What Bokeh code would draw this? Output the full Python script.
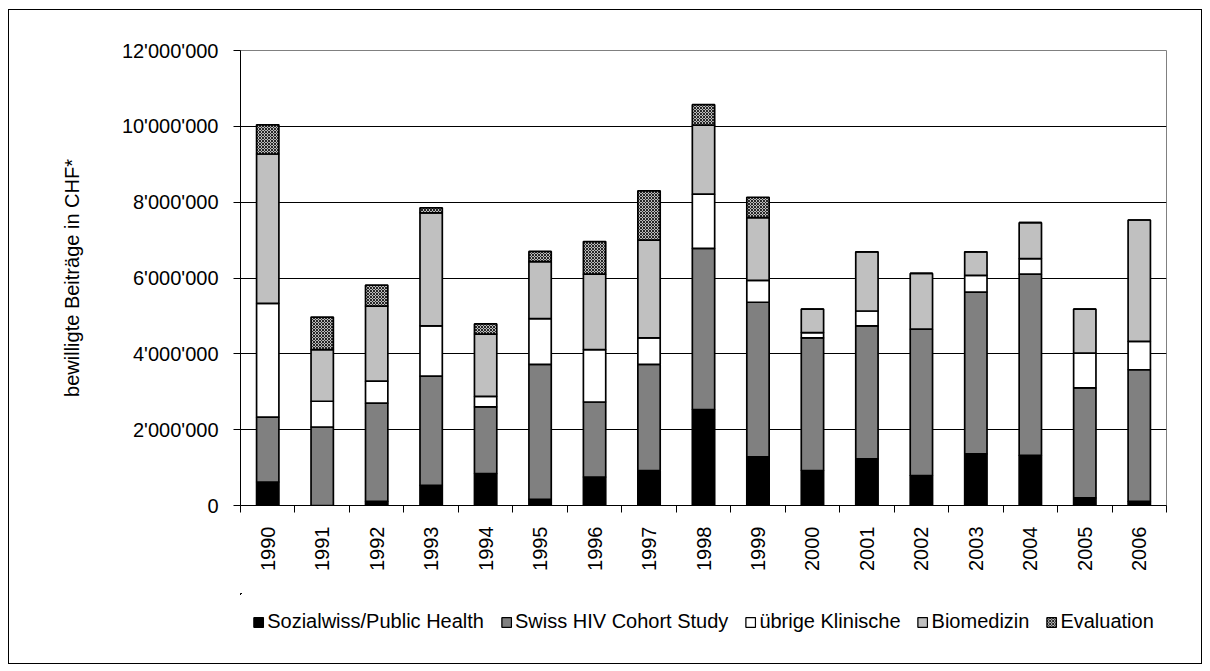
import math
from bokeh.plotting import figure
from bokeh.layouts import column
from bokeh.models import ColumnDataSource, Range1d, FixedTicker, Legend, LegendItem
from bokeh.embed import file_html
from bokeh.resources import INLINE

years = [1990, 1991, 1992, 1993, 1994, 1995, 1996, 1997, 1998, 1999,
         2000, 2001, 2002, 2003, 2004, 2005, 2006]
sozialwiss = [620000, 0, 110000, 530000, 840000, 160000, 750000, 920000, 2530000, 1280000,
              920000, 1230000, 790000, 1360000, 1320000, 200000, 110000]
shcs = [1710000, 2070000, 2590000, 2880000, 1760000, 3560000, 1980000, 2800000, 4250000, 4080000,
        3500000, 3510000, 3860000, 4270000, 4780000, 2900000, 3470000]
uebrige = [3000000, 680000, 580000, 1330000, 280000, 1210000, 1380000, 700000, 1430000, 580000,
           140000, 390000, 0, 440000, 410000, 920000, 750000]
biomedizin = [3940000, 1360000, 1980000, 2980000, 1640000, 1500000, 1990000, 2580000, 1820000, 1650000,
              620000, 1560000, 1470000, 620000, 950000, 1160000, 3200000]
evaluation = [770000, 860000, 550000, 130000, 270000, 270000, 860000, 1300000, 540000, 540000,
              0, 0, 0, 0, 0, 0, 0]

series_names = ["Sozialwiss/Public Health", "Swiss HIV Cohort Study", "übrige Klinische",
                "Biomedizin", "Evaluation"]
y_ticks = [0, 2000000, 4000000, 6000000, 8000000, 10000000, 12000000]
y_tick_labels = ["0", "2'000'000", "4'000'000", "6'000'000", "8'000'000", "10'000'000", "12'000'000"]
y_title = "bewilligte Beiträge in CHF*"

cols = ["soz", "shcs", "ueb", "bio", "eva"]
data = dict(year=years, soz=sozialwiss, shcs=shcs, ueb=uebrige, bio=biomedizin, eva=evaluation)
cum = [0] * len(years)
for c in cols:
    data[c + "_bottom"] = list(cum)
    cum = [a + b for a, b in zip(cum, data[c])]
    data[c + "_top"] = list(cum)
source = ColumnDataSource(data)

FONT = "Liberation Sans"
fills = ["#000000", "#808080", "#ffffff", "#c0c0c0", "#ffffff"]
hatch = dict(hatch_pattern="diagonal_cross", hatch_color="#202020", hatch_scale=3, hatch_weight=1.1)

# ---- main chart ----
p = figure(width=1192, height=583, output_backend="svg", toolbar_location=None,
           x_range=Range1d(1989.5, 2006.5), y_range=Range1d(0, 12000000),
           min_border_left=231, min_border_right=35, min_border_top=40, min_border_bottom=88,
           background_fill_color="white", border_fill_color="white")

for i, c in enumerate(cols):
    kw = hatch if c == "eva" else {}
    p.vbar(x="year", bottom=c + "_bottom", top=c + "_top", width=0.41, source=source,
           fill_color=fills[i], line_color="black", line_width=1.7, **kw)

p.xaxis.ticker = FixedTicker(ticks=years, minor_ticks=[y - 0.5 for y in years] + [years[-1] + 0.5])
p.xaxis.major_tick_line_color = None
p.xaxis.minor_tick_line_color = "black"
p.xaxis.minor_tick_out = 7
p.xaxis.minor_tick_in = 0
p.xaxis.major_label_orientation = math.pi / 2
p.xaxis.major_label_standoff = 14
p.xaxis.major_label_text_font = FONT
p.xaxis.major_label_text_font_size = "20px"
p.xaxis.major_label_text_color = "black"
p.xaxis.axis_line_color = "black"
p.xgrid.grid_line_color = None

p.yaxis.ticker = FixedTicker(ticks=y_ticks)
p.yaxis.major_label_overrides = {t: l for t, l in zip(y_ticks, y_tick_labels)}
p.yaxis.major_tick_out = 7
p.yaxis.major_tick_in = 0
p.yaxis.minor_tick_line_color = None
p.yaxis.major_tick_line_color = "black"
p.yaxis.axis_line_color = "black"
p.yaxis.major_label_standoff = 15
p.yaxis.major_label_text_font = FONT
p.yaxis.major_label_text_font_size = "20px"
p.yaxis.major_label_text_color = "black"
p.yaxis.axis_label = y_title
p.yaxis.axis_label_text_font = FONT
p.yaxis.axis_label_text_font_size = "20px"
p.yaxis.axis_label_text_font_style = "normal"
p.yaxis.axis_label_text_color = "black"
p.yaxis.axis_label_standoff = 36
p.ygrid.grid_line_color = "black"
p.ygrid.grid_line_width = 1

p.outline_line_color = "#808080"
p.outline_line_width = 1

# ---- legend strip (its ranges keep the helper bars out of view) ----
q = figure(width=1192, height=70, output_backend="svg", toolbar_location=None,
           x_range=Range1d(3000, 3001), y_range=Range1d(-2, -1),
           x_axis_location=None, y_axis_location=None,
           min_border_left=0, min_border_right=0, min_border_top=0, min_border_bottom=0,
           background_fill_color="white", border_fill_color="white")
q.grid.visible = False
q.outline_line_color = None
leg_renderers = []
for i, c in enumerate(cols):
    kw = hatch if c == "eva" else {}
    r = q.vbar(x="year", bottom=c + "_bottom", top=c + "_top", width=0.41, source=source,
               fill_color=fills[i], line_color="black", line_width=1.3, **kw)
    leg_renderers.append(r)

legend = Legend(items=[LegendItem(label=n, renderers=[r]) for n, r in zip(series_names, leg_renderers)],
                orientation="horizontal", location="top_center",
                label_text_font=FONT, label_text_font_size="20px", label_text_color="black",
                glyph_width=12, glyph_height=12, label_standoff=3, spacing=16,
                border_line_color=None, background_fill_alpha=0, margin=17, padding=4)
q.add_layout(legend, "center")

layout = column(p, q, spacing=0,
                styles={"border": "1px solid black", "margin-left": "8px", "margin-top": "9px"})

open("out.html", "w").write(file_html(layout, INLINE))
